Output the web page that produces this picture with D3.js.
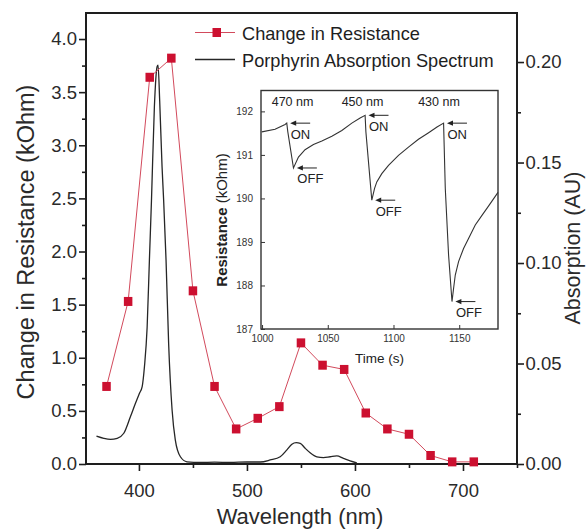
<!DOCTYPE html>
<html><head><meta charset="utf-8">
<script src="https://cdn.jsdelivr.net/npm/d3@7"></script>
<style>
html,body{margin:0;padding:0;background:#fff;}
svg{display:block;font-family:"Liberation Sans",Arial,Helvetica,sans-serif;}
</style></head><body>
<svg id="chart" width="586" height="529"></svg>
<script>
// Change in resistance at each illumination wavelength (kOhm)
const wavelengths = [370,390,410,430,450,470,490,510,530,550,570,590,610,630,650,670,690,710];
const resistanceChange = [0.73,1.53,3.64,3.82,1.63,0.73,0.33,0.43,0.54,1.14,0.93,0.89,0.48,0.33,0.28,0.08,0.02,0.02];

// Porphyrin absorption spectrum (nm -> AU)
const absWavelength = [360.7,367.5,373.7,379.9,386.0,392.1,396.8,400.5,403.0,405.1,407.6,409.7,411.6,414.3,416.8,417.7,419.2,421.4,422.9,425.1,427.5,430.7,433.7,438.4,444.5,456.8,470,484.6,500,512.3,521.5,530.8,537.0,541.6,545.6,549.3,553.9,558.5,564.7,570.8,577.0,583.2,589.3,595.5,601.7];
const absValue = [0.0139,0.0128,0.0123,0.0128,0.0153,0.0235,0.0302,0.0352,0.0385,0.0484,0.068,0.1015,0.131,0.1776,0.1977,0.1985,0.181,0.148,0.131,0.1015,0.060,0.0269,0.0119,0.0036,0.0011,0.0008,0.0009,0.0008,0.0010,0.0010,0.0020,0.0036,0.0070,0.0098,0.0106,0.0103,0.0078,0.0056,0.0036,0.0032,0.0036,0.0040,0.0028,0.0016,0.0006];

// Inset: resistance trace while the light is switched on and off
const insetTime = [999.8,1009.9,1017.5,1018.8,1019.6,1023.9,1027.7,1032.7,1039.1,1045.5,1053.1,1060.7,1068.3,1074.6,1078.4,1079.0,1083.5,1085.6,1087.3,1091.1,1096.2,1103.8,1111.4,1119.0,1126.7,1133.1,1138.1,1139.4,1141.9,1144.5,1145.7,1147.0,1149.5,1153.3,1157.1,1162.2,1167.3,1172.4,1179.5];
const insetResistance = [191.53,191.59,191.70,191.73,191.53,190.70,190.95,191.12,191.24,191.32,191.43,191.56,191.73,191.85,191.91,191.53,189.96,190.23,190.38,190.57,190.76,190.99,191.18,191.36,191.51,191.64,191.73,190.23,188.70,187.63,187.93,188.24,188.55,188.85,189.08,189.39,189.61,189.83,190.14];
const switchOn = [[1018.8,191.73],[1078.4,191.91],[1138.1,191.73]];
const switchOff = [[1023.9,190.70],[1083.5,189.96],[1144.5,187.63]];
const insetWavelengthLabels = ["470 nm","450 nm","430 nm"];
const insetLabelTimes = [1023.2,1076.4,1134.6];

// Tick values
const xTicks = [400,500,600,700];
const xMinor = [450,550,650,750];
const yLeftTicks = [0,0.5,1,1.5,2,2.5,3,3.5,4];
const yLeftMinor = [0.25,0.75,1.25,1.75,2.25,2.75,3.25,3.75];
const yRightTicks = [0,0.05,0.1,0.15,0.2];
const yRightMinor = [0.025,0.075,0.125,0.175];
const insetXTicks = [1000,1050,1100,1150];
const insetYTicks = [187,188,189,190,191,192];

const svg = d3.select("#chart");
const ink = "#1e1e1e";
const red = "#cc1030";

const L = 86, R = 517, T = 13, B = 464;
const x = d3.scaleLinear().domain([351, 750]).range([L, R]);
const yL = d3.scaleLinear().domain([0, 4.245]).range([B, T]);
const yR = d3.scaleLinear().domain([0, 0.2244]).range([B, T]);

// ---- Main axes ----
const tickFont = "18.5px";
function styleAxis(g){
  g.select(".domain").remove();
  g.selectAll("line").attr("stroke", ink).attr("stroke-width", 1.6);
  g.selectAll("text").attr("fill", "#2a2a2a").style("font-size", tickFont).style("font-family", '"Liberation Sans",Arial,sans-serif');
}

// minor ticks
svg.append("g").attr("transform", `translate(0,${B})`)
  .call(d3.axisBottom(x).tickValues(xMinor).tickSize(4).tickFormat(""))
  .call(styleAxis);
svg.append("g").attr("transform", `translate(${L},0)`)
  .call(d3.axisLeft(yL).tickValues(yLeftMinor).tickSize(4).tickFormat(""))
  .call(styleAxis);
svg.append("g").attr("transform", `translate(${R},0)`)
  .call(d3.axisRight(yR).tickValues(yRightMinor).tickSize(4).tickFormat(""))
  .call(styleAxis);

// major ticks
const gx = svg.append("g").attr("transform", `translate(0,${B})`)
  .call(d3.axisBottom(x).tickValues(xTicks).tickSize(7).tickFormat(d3.format("d")))
  .call(styleAxis);
gx.selectAll("text").attr("dy", null).attr("y", 33);

svg.append("g").attr("transform", `translate(${L},0)`)
  .call(d3.axisLeft(yL).tickValues(yLeftTicks).tickSize(7).tickPadding(2).tickFormat(d3.format(".1f")))
  .call(styleAxis);

svg.append("g").attr("transform", `translate(${R},0)`)
  .call(d3.axisRight(yR).tickValues(yRightTicks).tickSize(7).tickPadding(1.5).tickFormat(d3.format(".2f")))
  .call(styleAxis);

// frame
svg.append("rect").attr("x", L).attr("y", T).attr("width", R - L).attr("height", B - T)
  .attr("fill", "none").attr("stroke", ink).attr("stroke-width", 2);

// axis titles
svg.append("text").attr("transform", "translate(33.5,242) rotate(-90)")
  .attr("text-anchor", "middle").attr("fill", "#2a2a2a").style("font-size", "23.5px")
  .text("Change in Resistance (kOhm)");
svg.append("text").attr("x", 300).attr("y", 524)
  .attr("text-anchor", "middle").attr("fill", "#2a2a2a").style("font-size", "22px")
  .text("Wavelength (nm)");
svg.append("text").attr("transform", "translate(579.5,248) rotate(-90)")
  .attr("text-anchor", "middle").attr("fill", "#2a2a2a").style("font-size", "21.5px")
  .text("Absorption (AU)");

// ---- Absorption spectrum ----
const absLine = d3.line().x((d, i) => x(absWavelength[i])).y(d => yR(d)).curve(d3.curveMonotoneX);
svg.append("path").attr("d", absLine(absValue))
  .attr("fill", "none").attr("stroke", "#262626").attr("stroke-width", 1.3);

// ---- Resistance change ----
const resLine = d3.line().x((d, i) => x(wavelengths[i])).y(d => yL(d));
svg.append("path").attr("d", resLine(resistanceChange))
  .attr("fill", "none").attr("stroke", "#d24a5c").attr("stroke-width", 1);
svg.append("g").selectAll("rect").data(resistanceChange).join("rect")
  .attr("x", (d, i) => x(wavelengths[i]) - 4.25)
  .attr("y", d => yL(d) - 4.5)
  .attr("width", 8.5).attr("height", 9)
  .attr("fill", red);

// ---- Legend ----
const lg = svg.append("g");
lg.append("line").attr("x1", 195).attr("x2", 235).attr("y1", 32.5).attr("y2", 32.5)
  .attr("stroke", "#d24a5c").attr("stroke-width", 1);
lg.append("rect").attr("x", 212.5).attr("y", 28).attr("width", 8.5).attr("height", 9).attr("fill", red);
lg.append("text").attr("x", 242).attr("y", 39.5).attr("fill", ink).style("font-size", "18.2px")
  .text("Change in Resistance");
lg.append("line").attr("x1", 195).attr("x2", 235).attr("y1", 59.5).attr("y2", 59.5)
  .attr("stroke", "#262626").attr("stroke-width", 1.3);
lg.append("text").attr("x", 242).attr("y", 66.5).attr("fill", ink).style("font-size", "18.2px")
  .text("Porphyrin Absorption Spectrum");

// ---- Inset ----
const iL = 261, iR = 498, iT = 90.5, iB = 329;
const xi = d3.scaleLinear().domain([999.2, 1179.5]).range([iL, iR]);
const yi = d3.scaleLinear().domain([187, 192.48]).range([iB, iT]);
const inset = svg.append("g");
inset.append("rect").attr("x", iL).attr("y", iT).attr("width", iR - iL).attr("height", iB - iT)
  .attr("fill", "#fff");

function styleInsetAxis(g){
  g.select(".domain").remove();
  g.selectAll("line").attr("stroke", "#333").attr("stroke-width", 1);
  g.selectAll("text").attr("fill", "#333").style("font-size", "10px").style("font-family", '"Liberation Sans",Arial,sans-serif');
}
inset.append("g").attr("transform", `translate(0,${iB})`)
  .call(d3.axisBottom(xi).tickValues(insetXTicks).tickSizeInner(-4).tickSizeOuter(0).tickPadding(6).tickFormat(d3.format("d")))
  .call(styleInsetAxis);
inset.append("g").attr("transform", `translate(${iL},0)`)
  .call(d3.axisLeft(yi).tickValues(insetYTicks).tickSizeInner(-4).tickSizeOuter(0).tickPadding(8).tickFormat(d3.format("d")))
  .call(styleInsetAxis);

inset.append("rect").attr("x", iL).attr("y", iT).attr("width", iR - iL).attr("height", iB - iT)
  .attr("fill", "none").attr("stroke", "#333").attr("stroke-width", 1.4);

const traceLine = d3.line().x((d, i) => xi(insetTime[i])).y(d => yi(d));
inset.append("path").attr("d", traceLine(insetResistance))
  .attr("fill", "none").attr("stroke", "#333").attr("stroke-width", 1.1);

// wavelength labels above each pulse
inset.append("g").selectAll("text").data(insetWavelengthLabels).join("text")
  .attr("x", (d, i) => xi(insetLabelTimes[i])).attr("y", 105.5)
  .attr("text-anchor", "middle").attr("fill", "#222").style("font-size", "12.5px")
  .text(d => d);

// ON / OFF arrows
function marker(points, label){
  const g = inset.append("g");
  points.forEach(p => {
    const tx = xi(p[0]) + 3.4, ty = yi(p[1]);
    g.append("line").attr("x1", tx + 3).attr("x2", tx + 20).attr("y1", ty).attr("y2", ty)
      .attr("stroke", "#222").attr("stroke-width", 1);
    g.append("path").attr("d", `M${tx},${ty}L${tx + 6},${ty - 2.6}L${tx + 6},${ty + 2.6}Z`).attr("fill", "#222");
    g.append("text").attr("x", tx + 0.5).attr("y", ty + 15.5).attr("fill", "#222")
      .style("font-size", "13px").text(label);
  });
}
marker(switchOn, "ON");
marker(switchOff, "OFF");

// inset axis titles
const rt = inset.append("text").attr("transform", "translate(226.5,220) rotate(-90)")
  .attr("text-anchor", "middle").attr("fill", "#222").style("font-size", "15px");
rt.append("tspan").style("font-weight", "bold").text("Resistance");
rt.append("tspan").text(" (kOhm)");
inset.append("text").attr("x", 379.5).attr("y", 363).attr("text-anchor", "middle")
  .attr("fill", "#222").style("font-size", "13.5px").text("Time (s)");
</script>
</body></html>
